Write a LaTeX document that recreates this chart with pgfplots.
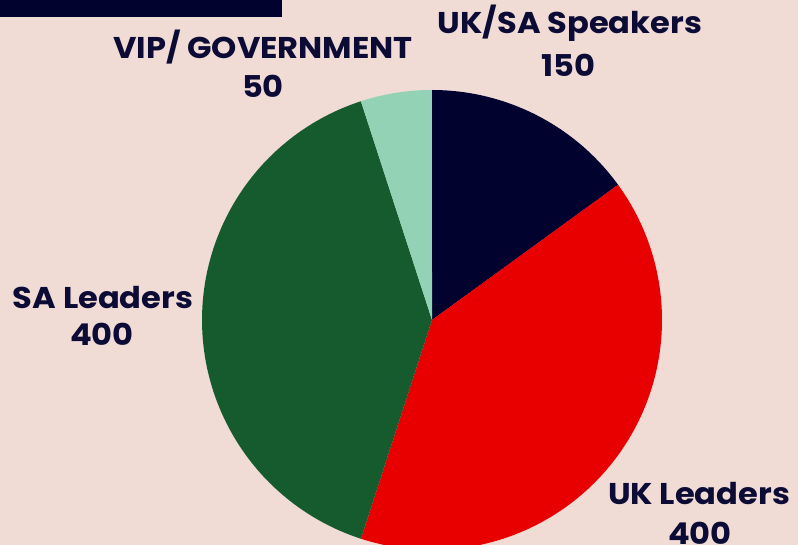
\documentclass[border=0pt]{standalone}
\usepackage{pgfplots}
\pgfplotsset{compat=1.18}
\usepackage{fontspec}
\setmainfont{Poppins}[BoldFont=* Bold,BoldFeatures={FakeStretch=1.07}]
\definecolor{bg}{HTML}{F0DBD5}
\definecolor{navy}{HTML}{02022E}
\definecolor{ukred}{HTML}{E80000}
\definecolor{sagreen}{HTML}{165B2D}
\definecolor{vipgreen}{HTML}{93D2B4}
\definecolor{txt}{HTML}{0B0B35}
% data
\def\valA{150} % UK/SA Speakers
\def\valB{400} % UK Leaders
\def\valC{400} % SA Leaders
\def\valD{50}  % VIP/ GOVERNMENT
\pgfmathsetmacro\tot{\valA+\valB+\valC+\valD}
\pgfmathsetmacro\aZ{90}
\pgfmathsetmacro\aA{\aZ-360*(\valA/\tot)}
\pgfmathsetmacro\aB{\aA-360*(\valB/\tot)}
\pgfmathsetmacro\aC{\aB-360*(\valC/\tot)}
\pgfmathsetmacro\aD{\aC-360*(\valD/\tot)}
\begin{document}
\begin{tikzpicture}
\begin{scope}[x=0.75pt,y=0.75pt]
\useasboundingbox (0,0) rectangle (798,545);
\clip (0,0) rectangle (798,545);
\fill[bg] (0,0) rectangle (798,545);
\fill[navy] (0,528) rectangle (282,546);
\begin{axis}[at={(324pt,168.75pt)},anchor=center,scale only axis,width=345pt,height=345pt,
  xmin=-1,xmax=1,ymin=-1,ymax=1,hide axis,clip=false]
\addplot[fill=navy,draw=none,domain=\aA:\aZ,samples=80] ({cos(x)},{sin(x)}) -- (axis cs:0,0) -- cycle;
\addplot[fill=ukred,draw=none,domain=\aB:\aA,samples=150] ({cos(x)},{sin(x)}) -- (axis cs:0,0) -- cycle;
\addplot[fill=sagreen,draw=none,domain=\aC:\aB,samples=150] ({cos(x)},{sin(x)}) -- (axis cs:0,0) -- cycle;
\addplot[fill=vipgreen,draw=none,domain=\aD:\aC,samples=40] ({cos(x)},{sin(x)}) -- (axis cs:0,0) -- cycle;
\end{axis}
\begin{scope}[every node/.style={anchor=base,inner sep=0pt,text=txt,font=\fontsize{22.5}{27}\selectfont\bfseries}]
\node at (570,511) {UK/SA Speakers};
\node at (568,468) {150};
\node at (263,486) {VIP/ GOVERNMENT};
\node at (263,447) {50};
\node at (103,236) {SA Leaders};
\node at (102,199) {400};
\node at (699,40) {UK Leaders};
\node at (700,1) {400};
\end{scope}
\end{scope}
\end{tikzpicture}
\end{document}
